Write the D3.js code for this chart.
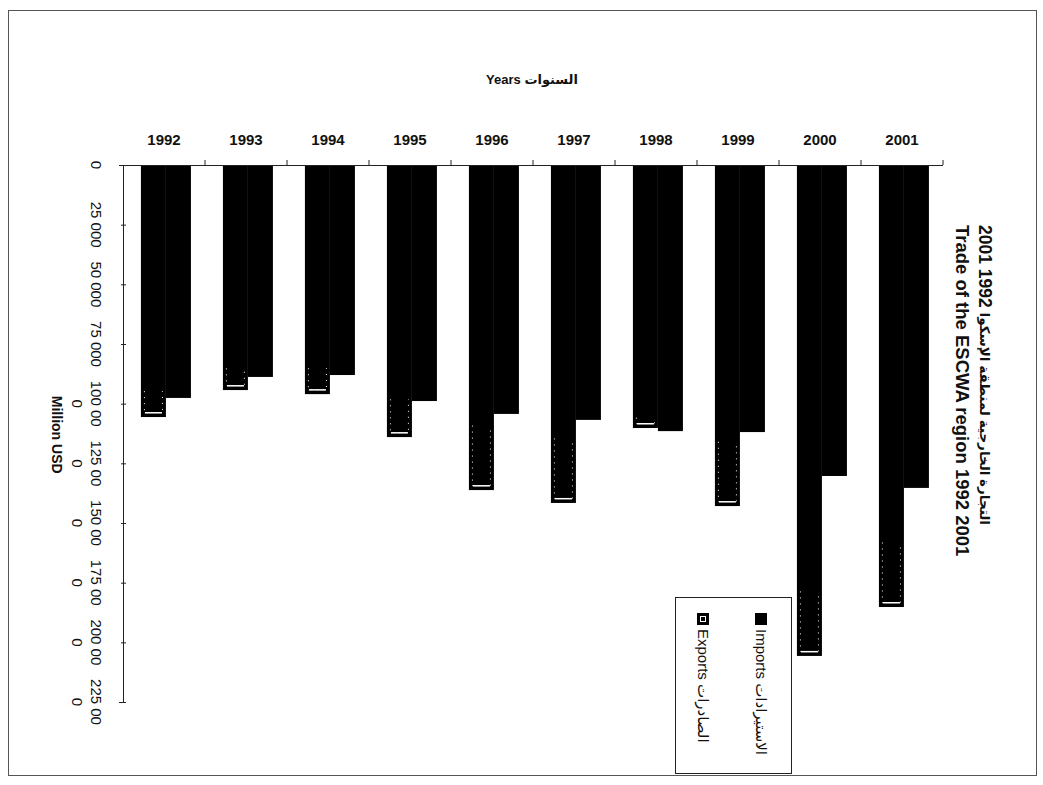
<!DOCTYPE html>
<html>
<head>
<meta charset="utf-8">
<script src="https://cdn.jsdelivr.net/npm/d3@7"></script>
<style>
  html, body { margin: 0; padding: 0; background: #fff; }
  svg { display: block; font-family: Arial, "Liberation Sans", "DejaVu Sans", sans-serif; }
</style>
</head>
<body>
<svg id="chart" width="1043" height="785"></svg>
<script>
// ---- data (million USD) ----
const years = ["1992","1993","1994","1995","1996","1997","1998","1999","2000","2001"];
const exportsVals = [105600, 94300, 96000, 114000, 136200, 141600, 110200, 142900, 205700, 185200];
const importsVals = [97600, 88800, 88000, 98900, 104300, 106800, 111500, 111900, 130300, 135300];
const seriesNames = ["Exports", "Imports"];
const legendLabels = ["Imports الاستيرادات", "Exports الصادرات"];
const valueTicks = [0, 25000, 50000, 75000, 100000, 125000, 150000, 175000, 200000, 225000];
const valueTickLabels = ["0", "25 000", "50 000", "75 000", "100 00|0", "125 00|0", "150 00|0", "175 00|0", "200 00|0", "225 00|0"];
const titleEn = "Trade of the ESCWA region 1992 2001";
const titleArYears = "2001 1992 ";
const titleAr = "التجارة الخارجية لمنطقة الإسكوا";
const yearsTitle = "Years السنوات";
const valueTitle = "Million USD";

const svg = d3.select("#chart");

// outer frame
svg.append("rect").attr("x", 8.5).attr("y", 10.5).attr("width", 1028).attr("height", 765)
  .attr("fill", "none").attr("stroke", "#555").attr("stroke-width", 1);

// scales
const x0 = d3.scaleBand().domain(years).range([123, 943]).padding(0);
const x1 = d3.scaleBand().domain(seriesNames).range([0, x0.bandwidth()])
  .paddingInner(0).paddingOuter(0.64).align(0.56);
const y = d3.scaleLinear().domain([0, 225000]).range([165, 702]);

// bars
const groups = svg.append("g").selectAll("g").data(years).join("g")
  .attr("transform", d => `translate(${x0(d)},0)`);
groups.append("rect")
  .attr("x", x1("Exports")).attr("y", y(0))
  .attr("width", x1.bandwidth())
  .attr("height", (d, i) => y(exportsVals[i]) - y(0))
  .attr("fill", "#000");
// light speckle inset on the lower part of export bars
groups.append("path")
  .attr("d", (d, i) => {
    const x = x1("Exports") + 3.5, w = x1.bandwidth() - 7;
    const yb = y(exportsVals[i]) - 4.5;
    const yt = Math.max(y(0) + 10, yb - Math.min(60, (y(exportsVals[i]) - y(importsVals[i])) * 0.7 + 8));
    return `M${x},${yt} L${x},${yb} L${x + w},${yb} L${x + w},${yt}`;
  })
  .attr("fill", "none").attr("stroke", "#fff").attr("stroke-width", 1)
  .attr("stroke-dasharray", "1,5");
groups.append("rect")
  .attr("x", x1("Exports") + 4).attr("y", (d, i) => y(exportsVals[i]) - 5)
  .attr("width", x1.bandwidth() - 8).attr("height", 1.5)
  .attr("fill", "#fff");
groups.append("rect")
  .attr("x", x1("Imports")).attr("y", y(0))
  .attr("width", x1.bandwidth())
  .attr("height", (d, i) => y(importsVals[i]) - y(0))
  .attr("fill", "#000");

// value axis (left)
const yAxis = d3.axisLeft(y).tickValues(valueTicks).tickSize(4).tickFormat("");
const gy = svg.append("g").attr("transform", "translate(123,0)").call(yAxis);
gy.select(".domain").attr("stroke", "#222");
gy.selectAll(".tick line").attr("stroke", "#222").attr("x2", 3).attr("x1", -2);

const tl = svg.append("g").selectAll("text").data(valueTicks).join("text")
  .attr("transform", d => `translate(96,${y(d)}) rotate(90)`)
  .attr("text-anchor", "middle")
  .attr("font-size", 15)
  .attr("fill", "#111");
tl.each(function(d, i) {
  const parts = valueTickLabels[i].split("|");
  const t = d3.select(this);
  parts.forEach((p, k) => {
    t.append("tspan").attr("x", 0).attr("y", k * 19 + 5).text(p);
  });
});

svg.append("text")
  .attr("transform", `translate(57,${y(113000)}) rotate(90)`)
  .attr("text-anchor", "middle").attr("dominant-baseline", "central")
  .attr("font-size", 14).attr("font-weight", "bold").attr("fill", "#111")
  .text(valueTitle);

// category axis (top)
const xAxis = d3.axisTop(x0).tickSize(0).tickPadding(20);
const gx = svg.append("g").attr("transform", "translate(0,165)").call(xAxis);
gx.select(".domain").remove();
gx.selectAll(".tick text").attr("font-size", 15).attr("font-weight", "bold")
  .attr("font-family", "Arial, 'Liberation Sans', sans-serif").attr("fill", "#111");
svg.append("line").attr("x1", 123).attr("x2", x0.range()[1]).attr("y1", 165.5).attr("y2", 165.5)
  .attr("stroke", "#222");
const bounds = years.map(d => x0(d) + x0.bandwidth());
svg.append("g").selectAll("line").data(bounds).join("line")
  .attr("x1", d => d).attr("x2", d => d).attr("y1", 165).attr("y2", 160)
  .attr("stroke", "#222");

svg.append("text").attr("x", 532).attr("y", 84).attr("text-anchor", "middle")
  .attr("font-size", 13).attr("font-weight", "bold").attr("fill", "#111")
  .text(yearsTitle);

// title (right, rotated)
const tAr = svg.append("text").attr("transform", "translate(985,225) rotate(90)")
  .attr("dominant-baseline", "central").attr("font-weight", "bold").attr("fill", "#111");
tAr.append("tspan").attr("font-size", 17.5).text(titleArYears);
tAr.append("tspan").attr("font-size", 13.5).text(titleAr);
svg.append("text").attr("transform", "translate(962,225) rotate(90)")
  .attr("dominant-baseline", "central").attr("font-size", 18.5).attr("font-weight", "bold")
  .attr("fill", "#111").text(titleEn);

// legend
const lg = svg.append("g");
lg.append("rect").attr("x", 675.5).attr("y", 597.5).attr("width", 116).attr("height", 176)
  .attr("fill", "#fff").attr("stroke", "#222");
const legItems = [
  { cx: 761, fill: "#000", label: legendLabels[0], inner: false },
  { cx: 703, fill: "#000", label: legendLabels[1], inner: true }
];
legItems.forEach(it => {
  lg.append("rect").attr("x", it.cx - 6).attr("y", 613).attr("width", 12).attr("height", 12)
    .attr("fill", it.fill);
  if (it.inner) {
    lg.append("rect").attr("x", it.cx - 2.5).attr("y", 616.5).attr("width", 5).attr("height", 5)
      .attr("fill", "none").attr("stroke", "#fff").attr("stroke-width", 1);
  }
  lg.append("text").attr("transform", `translate(${it.cx},629) rotate(90)`)
    .attr("dominant-baseline", "central").attr("font-size", 15).attr("fill", "#111")
    .text(it.label);
});
</script>
</body>
</html>
